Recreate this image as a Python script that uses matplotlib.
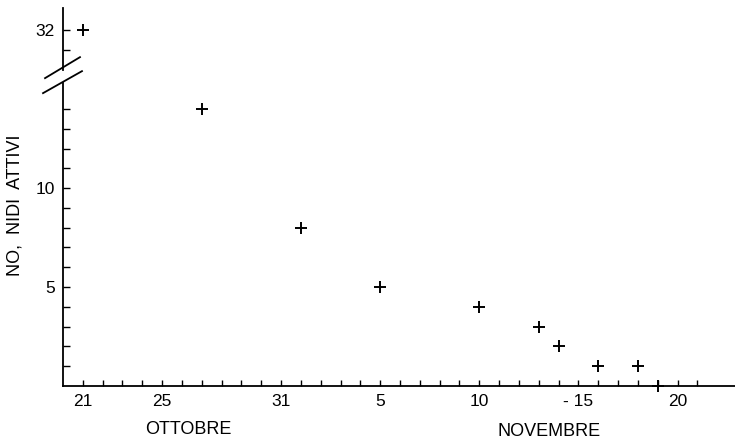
import numpy as np
import matplotlib
matplotlib.use('Agg')
import matplotlib.pyplot as plt

# Day numbers: October d -> d, November d -> 31 + d
days = [21, 27, 32, 36, 41, 44, 45, 47, 49, 50]
nests = [32, 14, 8, 5, 4, 3, 2, 1, 1, 0]

# The 32 value sits above the axis break, drawn at position 18
BREAK_MAP = {32: 18}
y_plot = [BREAK_MAP.get(v, v) for v in nests]

xtick_pos = [21, 25, 31, 36, 41, 46, 51]
xtick_lab = ['21', '25', '31', '5', '10', '- 15', '20']
ytick_pos = [5, 10, 18]
ytick_lab = ['5', '10', '32']

plt.rcParams['font.family'] = ['Liberation Sans', 'DejaVu Sans']

W, H = 735, 442
fig = plt.figure(figsize=(W / 100, H / 100), dpi=100)
ax = fig.add_axes([63 / W, (H - 386) / H, (W - 63) / W, (386 - 8) / H])

ax.plot(days, y_plot, '+', color='black', markersize=8, markeredgewidth=1.4,
        clip_on=False, zorder=5)

ax.set_xlim(20.0, 53.9)
ax.set_ylim(0, 19.1)

for s in ['top', 'right', 'left']:
    ax.spines[s].set_visible(False)
ax.spines['bottom'].set_linewidth(1.3)

# x ticks: every day, labels on a few
ax.set_xticks(np.arange(21, 53), minor=True)
ax.set_xticks(xtick_pos)
ax.set_xticklabels(xtick_lab, fontsize=12.5)
ax.tick_params(axis='x', which='both', direction='in', length=4, width=1.0, pad=6)

# y ticks
minor_y = list(range(1, 15)) + [17]
ax.set_yticks(minor_y, minor=True)
ax.set_yticks(ytick_pos)
ax.set_yticklabels(ytick_lab, fontsize=12.5)
ax.tick_params(axis='y', which='both', direction='in', length=5, width=1.0, pad=6)

# broken left spine
ax.plot([20.0, 20.0], [0, 15.3], color='black', lw=1.3, clip_on=False)
ax.plot([20.0, 20.0], [15.95, 19.1], color='black', lw=1.3, clip_on=False)

def px(xp, yp):
    return 20.0 + (xp - 63) / 19.85, (386 - yp) / 19.8

for (a, b) in [((45, 78), (80, 57)), ((43, 93), (82, 71))]:
    x0, y0 = px(*a)
    x1, y1 = px(*b)
    ax.plot([x0, x1], [y0, y1], color='black', lw=1.3, clip_on=False)

fig.text(15 / W, 1 - 205 / H, 'NO,  NIDI  ATTIVI', fontsize=13,
         rotation=90, ha='center', va='center')
fig.text(188 / W, 1 - 430 / H, 'OTTOBRE', fontsize=13, ha='center', va='center')
fig.text(549 / W, 1 - 432 / H, 'NOVEMBRE', fontsize=13, ha='center', va='center')

fig.savefig('out.png', dpi=100)
